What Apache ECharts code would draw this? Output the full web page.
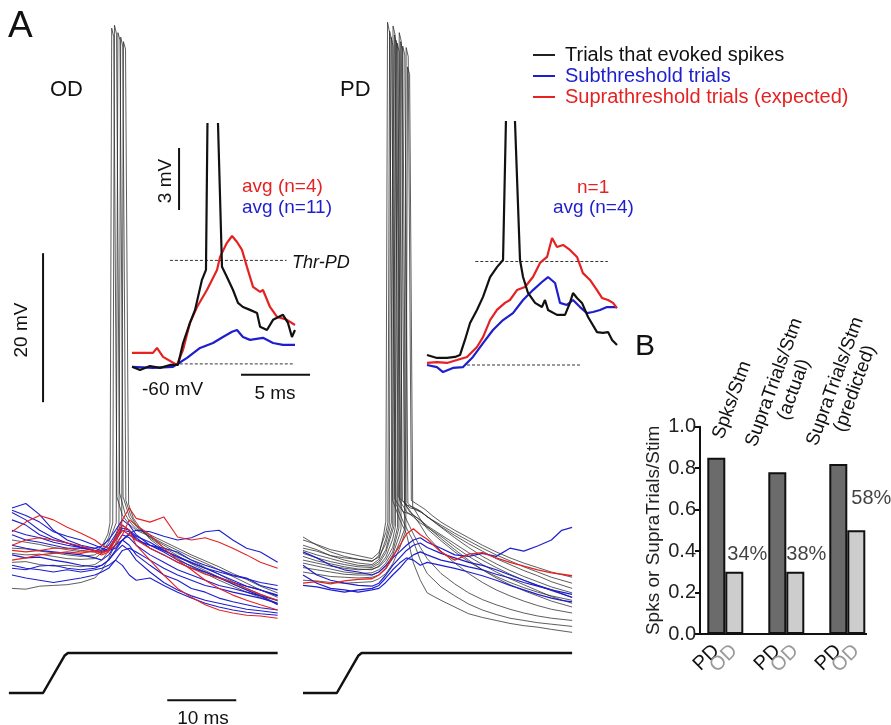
<!DOCTYPE html>
<html>
<head>
<meta charset="utf-8">
<title>OD / PD trials</title>
<script src="https://cdn.jsdelivr.net/npm/echarts@6/dist/echarts.min.js"></script>
<style>
  html, body { margin: 0; padding: 0; background: #fff; overflow: hidden; }
  #chart { width: 891px; height: 725px; }
</style>
</head>
<body>
<div id="chart"></div>
<script>
// ---------- panel A, OD cell: traces in [ms, mV] ----------
const odTimes = [0, 2, 4, 6, 8, 10, 12, 13, 14, 15, 16, 17, 18, 20, 22, 24, 26, 28, 30, 32, 34, 36, 38.5];

const odSubTrials = [
  [-53.0, -52.4, -53.9, -56.0, -57.3, -58.0, -58.4, -58.7, -58.0, -56.6, -55.3, -56.0, -57.3, -58.0, -58.4, -58.9, -60.0, -60.7, -61.3, -62.0, -62.4, -63.4, -64.0],
  [-54.6, -55.3, -56.6, -57.3, -57.7, -58.3, -58.7, -58.9, -58.7, -58.0, -57.3, -56.4, -56.0, -56.2, -56.8, -57.3, -57.0, -56.2, -56.0, -57.3, -58.4, -58.9, -60.3],
  [-58.0, -58.4, -58.7, -58.9, -59.1, -59.3, -59.7, -60.0, -59.3, -58.0, -56.6, -57.0, -58.0, -59.3, -60.3, -61.3, -62.0, -62.7, -63.4, -63.8, -64.3, -64.8, -65.4],
  [-59.3, -59.7, -59.6, -60.0, -60.3, -60.7, -60.9, -60.7, -60.0, -58.7, -57.3, -58.0, -59.3, -60.7, -62.0, -62.7, -63.8, -64.3, -65.1, -65.6, -66.0, -66.4, -66.7],
  [-60.7, -61.1, -61.3, -61.6, -61.3, -61.6, -61.3, -61.1, -60.7, -60.0, -60.7, -62.0, -62.7, -62.4, -63.4, -64.3, -65.1, -65.8, -66.3, -66.7, -67.0, -67.2, -67.4],
  [-62.0, -62.4, -62.7, -63.0, -62.7, -62.4, -62.0, -61.6, -61.1, -60.0, -58.7, -58.4, -58.9, -60.0, -61.1, -62.0, -62.7, -63.4, -63.8, -64.3, -64.7, -65.1, -65.8],
  [-56.6, -57.3, -57.6, -58.0, -58.4, -58.4, -58.7, -58.9, -58.7, -57.3, -56.0, -56.2, -57.0, -58.4, -59.3, -60.3, -61.1, -61.6, -62.3, -63.0, -63.5, -64.0, -64.7],
  [-53.3, -54.0, -54.9, -56.2, -56.8, -57.3, -58.0, -58.4, -58.7, -58.4, -57.3, -56.6, -57.3, -58.0, -58.7, -59.6, -60.4, -61.1, -61.6, -62.1, -62.5, -63.0, -63.4],
  [-56.0, -56.6, -57.0, -57.6, -58.0, -58.3, -58.4, -58.1, -57.3, -56.0, -54.6, -55.3, -56.6, -58.0, -58.9, -60.0, -60.8, -61.6, -62.4, -63.2, -64.0, -64.8, -66.0],
  [-61.1, -61.3, -60.8, -60.7, -61.1, -61.3, -61.1, -60.7, -60.0, -58.9, -58.0, -58.7, -60.0, -61.6, -63.0, -64.0, -64.8, -65.4, -65.8, -66.2, -66.6, -66.8, -67.1],
  [-53.6, -54.6, -56.0, -57.0, -57.7, -58.3, -58.7, -58.9, -58.4, -57.0, -55.7, -56.0, -56.8, -57.6, -58.7, -59.5, -60.3, -61.1, -61.9, -62.7, -63.5, -64.0, -64.8]
];

const odSupraTrials = [
  [-56.2, -54.9, -54.0, -54.6, -55.6, -56.4, -57.3, -58.0, -58.4, -57.0, -54.6, -53.0, -54.4, -54.9, -54.2, -56.9, -57.3, -57.0, -57.6, -58.4, -59.3, -60.3, -61.1],
  [-58.7, -58.9, -58.7, -58.4, -58.4, -58.7, -58.9, -59.3, -58.9, -57.3, -55.3, -56.0, -58.0, -60.0, -62.0, -63.8, -65.0, -66.0, -66.7, -67.1, -67.4, -67.5, -67.8],
  [-60.0, -59.7, -59.3, -59.1, -58.9, -59.1, -58.7, -58.9, -58.7, -57.3, -56.0, -56.6, -57.3, -58.4, -59.3, -60.3, -61.1, -61.9, -62.4, -63.0, -63.8, -64.6, -65.4],
  [-58.0, -57.3, -57.0, -57.3, -57.7, -58.1, -58.7, -59.1, -58.7, -58.0, -56.6, -54.6, -55.3, -56.6, -58.4, -60.0, -61.3, -62.7, -63.8, -64.7, -65.4, -66.0, -66.7]
];

// trials with a spike, [ms, mV] pairs
const odSpikeTrials = [
  [[0, -57.3], [2, -57.6], [4, -57.9], [6, -58.3], [8, -58.6], [10, -58.9], [12, -58.9], [13, -58.2], [13.9, -56.5], [14.2, -55.0], [14.45, 11.4], [14.75, 10.2], [15.2, -51.5], [16, -54.0], [17, -55.2], [18, -56.0], [20, -56.8], [22, -57.8], [24, -58.7], [26, -59.6], [28, -60.4], [30, -61.3], [32, -62.2], [34, -63.1], [36, -64.0], [38.5, -65.0]],
  [[0, -58.4], [2, -58.5], [4, -58.8], [6, -59.0], [8, -59.3], [10, -59.5], [12, -59.3], [13, -58.6], [14, -57.0], [14.6, -55.0], [14.85, 11.8], [15.15, 10.6], [15.6, -51.0], [16.4, -53.8], [17, -54.8], [18, -55.8], [20, -56.6], [22, -57.5], [24, -58.4], [26, -59.3], [28, -60.1], [30, -60.9], [32, -61.8], [34, -62.6], [36, -63.5], [38.5, -64.4]],
  [[0, -59.1], [2, -59.3], [4, -59.2], [6, -59.5], [8, -59.8], [10, -59.9], [12, -59.8], [13, -59.0], [14, -57.6], [15.1, -55.0], [15.35, 10.8], [15.65, 9.8], [16.1, -51.5], [17, -54.2], [18, -55.5], [20, -56.9], [22, -58.0], [24, -59.1], [26, -60.0], [28, -61.0], [30, -61.9], [32, -62.9], [34, -63.8], [36, -64.6], [38.5, -65.5]],
  [[0, -60.3], [2, -60.2], [4, -60.6], [6, -60.8], [8, -60.7], [10, -60.9], [12, -60.6], [13, -60.0], [14, -58.8], [15, -56.8], [15.5, -55.2], [15.75, 10.2], [16.05, 9.0], [16.5, -52.0], [17.2, -54.0], [18, -55.3], [20, -57.0], [22, -58.3], [24, -59.4], [26, -60.5], [28, -61.4], [30, -62.3], [32, -63.2], [34, -64.0], [36, -64.8], [38.5, -65.8]],
  [[0, -63.8], [2, -63.9], [4, -63.5], [6, -63.4], [8, -63.3], [10, -63.0], [12, -62.4], [13, -61.4], [14, -59.8], [15, -57.8], [15.9, -55.6], [16.15, 9.6], [16.45, 8.6], [16.9, -52.5], [17.6, -54.4], [18.5, -55.6], [20, -57.2], [22, -58.6], [24, -59.8], [26, -60.9], [28, -61.8], [30, -62.7], [32, -63.5], [34, -64.3], [36, -65.0], [38.5, -65.9]]
];

// ---------- panel A, PD cell ----------
const pdTimes = [0, 2, 4, 6, 8, 10, 11, 12, 13, 14, 15, 16, 17, 18, 20, 22, 24, 26, 28, 30, 32, 34, 36, 37.5, 39];

const pdSubTrials = [
  [-58.9, -59.7, -60.7, -61.3, -61.6, -62.0, -61.6, -60.7, -59.7, -58.9, -58.0, -57.3, -57.0, -57.6, -58.4, -59.3, -59.5, -59.1, -59.5, -58.4, -58.8, -58.1, -57.3, -56.0, -55.6],
  [-60.7, -62.0, -62.7, -63.1, -63.4, -63.5, -63.1, -62.0, -60.7, -59.7, -58.7, -58.0, -57.7, -58.3, -59.1, -59.7, -60.3, -60.7, -61.3, -62.0, -62.7, -63.4, -64.0, -64.5, -65.0],
  [-62.0, -63.1, -63.8, -64.0, -64.3, -64.0, -63.8, -63.0, -62.0, -61.1, -60.0, -59.3, -58.9, -59.3, -60.0, -60.4, -60.9, -61.3, -61.9, -62.4, -63.0, -63.5, -64.0, -64.3, -64.6],
  [-63.4, -63.6, -64.0, -64.3, -64.0, -63.8, -63.4, -62.4, -61.3, -60.4, -59.7, -60.0, -60.7, -60.3, -60.7, -61.1, -61.6, -62.1, -62.7, -63.4, -64.0, -64.6, -65.1, -65.4, -65.6]
];

const pdSupraTrials = [
  [-63.1, -62.9, -63.2, -62.8, -62.6, -62.5, -62.0, -61.1, -59.5, -58.1, -56.5, -55.8, -56.6, -57.2, -58.9, -60.0, -59.2, -59.0, -59.7, -60.3, -60.8, -61.3, -61.7, -61.9, -62.1]
];

const pdSpikeTrials = [
  [[0, -56.9], [2, -58.0], [4, -58.9], [6, -59.5], [8, -59.9], [10, -60.2], [11, -59.4], [11.7, -56.5], [12.0, -54.8], [12.25, 12.2], [12.55, 10.8], [13.0, -52.0], [14, -54.5], [15, -56.5], [16, -60.4], [17, -62.7], [18, -64.4], [20, -65.4], [22, -66.3], [24, -67.2], [26, -67.7], [28, -68.1], [30, -68.5], [32, -68.8], [34, -69.0], [36, -69.3], [39, -69.7]],
  [[0, -57.3], [2, -57.9], [4, -58.6], [6, -59.0], [8, -59.4], [10, -59.8], [11, -59.0], [12, -56.3], [12.3, -55.0], [12.55, 11.0], [12.85, 9.8], [13.3, -51.8], [14.5, -53.5], [16, -54.0], [17, -54.6], [18, -55.4], [20, -56.6], [22, -57.8], [24, -59.0], [26, -60.0], [28, -61.0], [30, -61.9], [32, -62.7], [34, -63.4], [36, -64.1], [39, -65.0]],
  [[0, -58.0], [2, -58.6], [4, -59.4], [6, -60.0], [8, -60.4], [10, -60.6], [11, -59.9], [12, -57.2], [12.5, -55.2], [12.75, 10.2], [13.05, 9.0], [13.5, -52.5], [14.5, -54.8], [16, -57.5], [17, -60.0], [18, -61.8], [20, -63.6], [22, -64.8], [24, -65.9], [26, -66.7], [28, -67.3], [30, -67.8], [32, -68.1], [34, -68.4], [36, -68.6], [39, -68.9]],
  [[0, -58.4], [2, -58.8], [4, -59.4], [6, -59.7], [8, -59.9], [10, -60.1], [11, -59.6], [12, -57.8], [12.8, -55.0], [13.05, 11.7], [13.35, 10.5], [13.8, -51.5], [15, -52.6], [16, -52.9], [17, -53.4], [18, -54.2], [20, -55.3], [22, -56.4], [24, -57.4], [26, -58.4], [28, -59.3], [30, -60.1], [32, -60.9], [34, -61.6], [36, -62.3], [39, -63.1]],
  [[0, -58.7], [2, -59.3], [4, -59.8], [6, -60.3], [8, -60.7], [10, -60.8], [11, -60.2], [12, -58.6], [13.0, -55.3], [13.25, 10.5], [13.55, 9.4], [14.0, -52.0], [15, -53.5], [16, -54.2], [17, -55.0], [18, -55.6], [20, -56.8], [22, -58.2], [24, -59.5], [26, -60.6], [28, -61.6], [30, -62.5], [32, -63.3], [34, -64.1], [36, -64.9], [39, -65.8]],
  [[0, -59.1], [2, -59.7], [4, -60.2], [6, -60.6], [8, -60.9], [10, -61.0], [11, -60.5], [12, -59.0], [13.2, -55.4], [13.45, 9.8], [13.75, 8.6], [14.2, -52.8], [15, -54.6], [16, -56.5], [17, -58.3], [18, -59.8], [20, -61.8], [22, -63.2], [24, -64.4], [26, -65.3], [28, -66.0], [30, -66.6], [32, -67.1], [34, -67.5], [36, -67.8], [39, -68.1]],
  [[0, -59.5], [2, -60.1], [4, -60.5], [6, -60.9], [8, -61.2], [10, -61.3], [11, -60.8], [12, -59.6], [13, -57.2], [13.4, -55.5], [13.65, 9.4], [13.95, 8.2], [14.4, -52.0], [15.5, -53.0], [16.5, -53.2], [17.5, -53.8], [18.5, -54.5], [20, -55.5], [22, -56.7], [24, -57.8], [26, -58.8], [28, -59.8], [30, -60.6], [32, -61.4], [34, -62.1], [36, -62.9], [39, -63.8]],
  [[0, -60.0], [2, -60.4], [4, -60.8], [6, -61.1], [8, -61.3], [10, -61.2], [11, -60.9], [12, -60.0], [13, -58.3], [13.7, -55.6], [13.95, 10.8], [14.25, 9.6], [14.7, -52.3], [15.5, -53.6], [16.5, -54.3], [17.5, -55.1], [18.5, -55.9], [20, -57.1], [22, -58.6], [24, -60.0], [26, -61.3], [28, -62.4], [30, -63.3], [32, -64.1], [34, -64.8], [36, -65.5], [39, -66.3]],
  [[0, -60.4], [2, -60.8], [4, -61.2], [6, -61.6], [8, -61.8], [10, -61.7], [11, -61.3], [12, -60.4], [13, -58.9], [13.9, -55.7], [14.15, 9.6], [14.45, 8.4], [14.9, -52.6], [16, -54.0], [17, -55.3], [18, -56.8], [20, -58.8], [22, -60.4], [24, -61.8], [26, -63.0], [28, -64.0], [30, -64.8], [32, -65.5], [34, -66.1], [36, -66.6], [39, -67.1]],
  [[0, -61.0], [2, -61.3], [4, -61.6], [6, -61.9], [8, -62.0], [10, -62.0], [11, -61.6], [12, -60.8], [13, -59.3], [14, -56.6], [14.2, -55.8], [14.45, 9.0], [14.75, 7.8], [15.2, -52.4], [16.2, -53.2], [17.2, -53.6], [18.2, -54.3], [20, -55.6], [22, -57.0], [24, -58.3], [26, -59.5], [28, -60.5], [30, -61.4], [32, -62.2], [34, -62.9], [36, -63.6], [39, -64.4]],
  [[0, -61.6], [2, -61.9], [4, -62.2], [6, -62.3], [8, -62.4], [10, -62.3], [11, -62.0], [12, -61.2], [13, -59.8], [14, -57.6], [14.7, -55.9], [14.95, 8.8], [15.25, 7.6], [15.7, -52.0], [16.7, -52.6], [17.7, -53.2], [18.7, -54.0], [20, -54.9], [22, -56.0], [24, -57.0], [26, -58.0], [28, -58.9], [30, -59.7], [32, -60.4], [34, -61.0], [36, -61.6], [39, -62.3]],
  [[0, -62.7], [2, -62.8], [4, -63.0], [6, -63.1], [8, -63.0], [10, -62.9], [11, -62.5], [12, -61.8], [13, -60.5], [14, -58.4], [14.9, -56.0], [15.15, 6.2], [15.45, 5.2], [15.9, -52.8], [17, -54.5], [18, -55.8], [20, -57.4], [22, -58.9], [24, -60.2], [26, -61.3], [28, -62.2], [30, -63.0], [32, -63.7], [34, -64.3], [36, -64.8], [39, -65.4]]
];

// stimulus command (0 = off, 1 = on)
const odStim = [[-0.45, 0], [4.5, 0], [7.6, 0.93], [8.1, 1], [38.5, 1]];
const pdStim = [[0, 0], [4.9, 0], [8.0, 0.93], [8.5, 1], [39, 1]];

// ---------- insets (averages), [ms, mV] ----------
const odInsetSpike = [[0, -60.14], [0.58, -60.29], [1.3, -60.1], [2.03, -60.19], [2.75, -60.05], [3.33, -60.05], [3.7, -58.99], [4.2, -58.02], [4.57, -57.39], [5.07, -55.94], [5.36, -55.46], [5.52, -45], [6.09, -45], [6.52, -55.31], [6.88, -55.8], [7.32, -56.43], [7.68, -57.05], [8.04, -57.25], [8.55, -57.39], [9.06, -57.54], [9.28, -58.21], [9.78, -58.36], [10.22, -57.87], [10.94, -57.63], [11.3, -58.02], [11.59, -58.7], [11.81, -58.36]];
const odInsetSupra = [[0, -59.47], [1.52, -59.47], [1.81, -59.23], [2.25, -59.66], [3.26, -60.05], [3.7, -59.32], [4.2, -58.02], [4.71, -57.25], [5.43, -56.43], [6.16, -55.46], [6.38, -54.83], [6.88, -54.15], [7.25, -53.82], [7.61, -54.11], [7.97, -54.49], [8.33, -55.31], [8.77, -56.28], [9.28, -56.52], [9.49, -56.43], [10.0, -57.25], [10.51, -57.73], [11.23, -57.87], [11.81, -58.12]];
const odInsetSub = [[0, -60.14], [1.52, -60.19], [2.97, -60.14], [3.99, -59.71], [4.93, -59.23], [5.87, -58.99], [6.59, -58.7], [7.25, -58.45], [7.61, -58.36], [8.04, -58.7], [8.55, -58.84], [9.49, -58.74], [10.22, -58.99], [10.94, -59.08], [11.81, -59.08]];

const pdInsetSpike = [[0, -59.52], [0.72, -59.66], [1.45, -59.66], [2.03, -59.61], [2.39, -59.52], [2.75, -58.79], [3.12, -57.97], [3.62, -57.34], [4.06, -56.71], [4.57, -55.75], [5.07, -55.27], [5.51, -54.93], [5.82, -45], [6.2, -45], [6.74, -54.93], [6.96, -55.75], [7.32, -56.52], [7.83, -57.0], [8.33, -57.2], [8.55, -56.86], [8.77, -57.34], [9.42, -57.58], [10.0, -57.58], [10.36, -57.0], [10.58, -56.52], [10.87, -56.76], [11.23, -57.0], [11.67, -57.68], [12.32, -58.41], [12.75, -58.45], [13.12, -58.41], [13.41, -58.79], [13.77, -59.03]];
const pdInsetSupra = [[0, -59.9], [0.72, -59.86], [1.45, -59.9], [2.17, -59.76], [2.9, -59.61], [3.62, -59.13], [4.06, -58.65], [4.57, -57.83], [5.07, -57.34], [5.65, -57.0], [6.01, -56.86], [6.52, -56.38], [7.1, -56.23], [7.68, -55.75], [8.19, -55.07], [8.7, -54.78], [9.06, -53.86], [9.42, -54.3], [9.86, -54.2], [10.36, -54.44], [10.87, -54.78], [11.3, -55.56], [11.81, -55.89], [12.32, -56.38], [12.68, -56.76], [13.12, -56.86], [13.48, -57.0], [13.77, -57.25]];
const pdInsetSub = [[0, -60.0], [0.72, -60.1], [1.16, -60.34], [1.88, -60.14], [2.61, -60.1], [3.33, -59.61], [4.06, -58.94], [4.78, -58.31], [5.51, -57.83], [6.23, -57.49], [6.96, -56.86], [7.68, -56.38], [8.33, -55.99], [8.77, -55.75], [9.28, -56.04], [9.64, -57.0], [10.14, -57.1], [10.58, -56.86], [11.09, -57.2], [11.59, -57.49], [12.03, -57.44], [12.54, -57.34], [13.04, -57.2], [13.77, -57.2]];

// threshold / baseline and scale bars
const odThrLine = [[2.75, -55], [11.2, -55]];
const odBaseLine = [[3.1, -60], [11.8, -60]];
const pdThrLine = [[3.5, -55], [13.1, -55]];
const pdBaseLine = [[2.9, -60], [11.1, -60]];
const scaleBar20mV = [[4.5, -18.8], [4.5, -38.8]];
const scaleBar10ms = [[22.5, -78.8], [32.5, -78.8]];
const scaleBar3mV = [[3.41, -49.57], [3.41, -52.57]];
const scaleBar5ms = [[7.9, -60.53], [12.9, -60.53]];

// ---------- panel B ----------
const barGroups = ['Spks/Stm', 'SupraTrials/Stm\n(actual)', 'SupraTrials/Stm\n(predicted)'];
const pdBars = [0.85, 0.78, 0.82];
const odBars = [0.30, 0.30, 0.50];
const pctLabels = ['34%', '38%', '58%'];
const bTicks = [0, 0.2, 0.4, 0.6, 0.8, 1.0];

const FONT = '"Liberation Sans", Arial, Helvetica, sans-serif';
const BLACK = '#2b2b2b', BLUE = '#1e1ecf', RED = '#e52222';
const NAME_SPK = 'Trials that evoked spikes';
const NAME_SUB = 'Subthreshold trials';
const NAME_SUPRA = 'Suprathreshold trials (expected)';

const chart = echarts.init(document.getElementById('chart'));

function line(name, data, idx, color, width, extra) {
  return Object.assign({
    type: 'line', name: name, data: data,
    xAxisIndex: idx, yAxisIndex: idx,
    symbol: 'none', showSymbol: false, silent: true, animation: false,
    emphasis: { disabled: true },
    lineStyle: { color: color, width: width },
    itemStyle: { color: color }
  }, extra || {});
}
const onGrid = (times, vals) => vals.map((v, i) => [times[i], v]);

const series = [];
odSpikeTrials.forEach(d => series.push(line(NAME_SPK, d, 0, BLACK, 0.9, { lineStyle: { color: BLACK, width: 0.9, opacity: 0.85 } })));
odSubTrials.forEach(v => series.push(line(NAME_SUB, onGrid(odTimes, v), 0, BLUE, 1.1)));
odSupraTrials.forEach(v => series.push(line(NAME_SUPRA, onGrid(odTimes, v), 0, RED, 1.1)));
pdSpikeTrials.forEach(d => series.push(line(NAME_SPK, d, 2, BLACK, 0.9, { lineStyle: { color: BLACK, width: 0.9, opacity: 0.85 } })));
pdSubTrials.forEach(v => series.push(line(NAME_SUB, onGrid(pdTimes, v), 2, BLUE, 1.2)));
pdSupraTrials.forEach(v => series.push(line(NAME_SUPRA, onGrid(pdTimes, v), 2, RED, 1.3)));

series.push(line('stim', odStim, 1, '#111', 2.5, { clip: false }));
series.push(line('stim', pdStim, 3, '#111', 2.5, { clip: false }));
series.push(line('scale', scaleBar20mV, 0, '#111', 2, { clip: false }));
series.push(line('scale', scaleBar10ms, 0, '#111', 2, { clip: false }));
series.push(line('scale', scaleBar3mV, 4, '#111', 2, { clip: false }));
series.push(line('scale', scaleBar5ms, 4, '#111', 2, { clip: false }));

const dashed = { color: '#333', width: 1, type: [3, 2] };
series.push(line('thr', odThrLine, 4, '#333', 1, { lineStyle: dashed }));
series.push(line('thr', odBaseLine, 4, '#333', 1, { lineStyle: dashed }));
series.push(line('thr', pdThrLine, 5, '#333', 1, { lineStyle: dashed }));
series.push(line('thr', pdBaseLine, 5, '#333', 1, { lineStyle: dashed }));

series.push(line(NAME_SUB, odInsetSub, 4, BLUE, 2.2));
series.push(line(NAME_SUPRA, odInsetSupra, 4, RED, 2.2));
series.push(line(NAME_SPK, odInsetSpike, 4, '#111', 2.2));
series.push(line(NAME_SUB, pdInsetSub, 5, BLUE, 2.2));
series.push(line(NAME_SUPRA, pdInsetSupra, 5, RED, 2.2));
series.push(line(NAME_SPK, pdInsetSpike, 5, '#111', 2.2));

const barLabel = (txt, color) => ({
  show: true, position: 'bottom', distance: 14, formatter: txt,
  rotate: 45, align: 'right', verticalAlign: 'middle',
  color: color, fontSize: 20, fontFamily: FONT
});
series.push({
  type: 'bar', name: 'PD', xAxisIndex: 6, yAxisIndex: 6, data: pdBars,
  barWidth: 18, barGap: '0%', silent: true, animation: false,
  itemStyle: { color: '#6b6b6b', borderColor: '#111', borderWidth: 2 },
  label: barLabel('PD', '#111')
});
series.push({
  type: 'bar', name: 'OD', xAxisIndex: 6, yAxisIndex: 6, data: odBars,
  barWidth: 18, barGap: '0%', silent: true, animation: false,
  itemStyle: { color: '#cdcdcd', borderColor: '#111', borderWidth: 2 },
  label: barLabel('OD', '#9a9a9a')
});
// percentages sit just above / right of the OD bar tops
const pctOffsets = [[22, -2], [20, -2], [24, -17]];
series.push({
  type: 'scatter', xAxisIndex: 6, yAxisIndex: 6, symbolSize: 0, silent: true, animation: false,
  itemStyle: { color: '#111' },
  data: odBars.map((v, i) => ({ value: [i, v], label: { offset: pctOffsets[i] } })),
  label: {
    show: true, position: 'top', distance: 5, formatter: p => pctLabels[p.dataIndex],
    color: '#111', fontSize: 20, fontFamily: FONT
  }
});

const hidden = (i, min, max) => ({ gridIndex: i, type: 'value', min: min, max: max, show: false });

function txt(o) {
  const align = o.align || 'left';
  return {
    type: 'text', x: o.x, y: o.y, rotation: (o.rot || 0) * Math.PI / 180, silent: true, z: 100,
    style: {
      text: o.text, font: (o.italic ? 'italic ' : '') + o.size + 'px ' + FONT, fill: o.color || '#111',
      align: align, textAlign: align, verticalAlign: 'middle', textVerticalAlign: 'middle',
      lineHeight: o.lh || o.size
    }
  };
}
const texts = [
  { text: 'A', x: 8, y: 27, size: 37 },
  { text: 'OD', x: 50, y: 90, size: 22 },
  { text: 'PD', x: 340, y: 90, size: 22 },
  { text: 'B', x: 635, y: 347, size: 30 },
  { text: '20 mV', x: 22, y: 330, size: 19, rot: 90, align: 'center' },
  { text: '10 ms', x: 203, y: 719, size: 19, align: 'center' },
  { text: '3 mV', x: 166, y: 181, size: 19, rot: 90, align: 'center' },
  { text: 'avg (n=4)', x: 242, y: 187, size: 19, color: RED },
  { text: 'avg (n=11)', x: 242, y: 208, size: 19, color: BLUE },
  { text: 'Thr-PD', x: 292, y: 263, size: 18, italic: true },
  { text: '-60 mV', x: 142, y: 390, size: 19 },
  { text: '5 ms', x: 275, y: 394, size: 19, align: 'center' },
  { text: 'n=1', x: 577, y: 188, size: 19, color: RED },
  { text: 'avg (n=4)', x: 553, y: 208, size: 19, color: BLUE },
  { text: barGroups[0], x: 732, y: 400, size: 19, rot: 70, align: 'center', lh: 21 },
  { text: barGroups[1], x: 784, y: 386, size: 19, rot: 70, align: 'center', lh: 21 },
  { text: barGroups[2], x: 845, y: 385, size: 19, rot: 70, align: 'center', lh: 21 }
];
const graphic = texts.map(txt);
graphic.push({ type: 'line', silent: true, z: 100, shape: { x1: 699, y1: 634, x2: 867, y2: 634 }, style: { stroke: '#111', lineWidth: 2 } });

chart.setOption({
  animation: false,
  textStyle: { fontFamily: FONT },
  grid: [
    { left: 8.55, top: 20, width: 269.1, height: 689.1 },
    { left: 8.55, top: 653, width: 269.1, height: 40 },
    { left: 303, top: 20, width: 269.1, height: 689.1 },
    { left: 303, top: 653, width: 269.1, height: 40 },
    { left: 132, top: 124, width: 179.4, height: 260.6 },
    { left: 427, top: 122, width: 193.2, height: 263.7 },
    { left: 694.8, top: 426.7, width: 183, height: 207.3 }
  ],
  xAxis: [
    hidden(0, -0.5, 38.5), hidden(1, -0.5, 38.5), hidden(2, 0, 39), hidden(3, 0, 39),
    hidden(4, 0, 13), hidden(5, 0, 14),
    { gridIndex: 6, type: 'category', data: barGroups, axisLine: { show: false }, axisTick: { show: false }, axisLabel: { show: false } }
  ],
  yAxis: [
    hidden(0, -80, 12.5), hidden(1, 0, 1), hidden(2, -80, 12.5), hidden(3, 0, 1),
    hidden(4, -61, -48.41), hidden(5, -61, -48.26),
    {
      gridIndex: 6, type: 'value', min: bTicks[0], max: bTicks[bTicks.length - 1], interval: 0.2, offset: -5.2,
      name: 'Spks or SupraTrials/Stim', nameLocation: 'middle', nameRotate: 90, nameGap: 37,
      nameTextStyle: { fontSize: 19, color: '#222', fontFamily: FONT },
      axisLine: { show: true, lineStyle: { color: '#111', width: 2 } },
      axisTick: { show: true, length: 5, lineStyle: { color: '#111', width: 2 } },
      axisLabel: { fontSize: 20, color: '#222', margin: 4, formatter: v => v.toFixed(1) },
      splitLine: { show: false }
    }
  ],
  legend: {
    left: 533, top: 45, padding: 0, orient: 'vertical', icon: 'rect', itemWidth: 22, itemHeight: 2, itemGap: 1,
    selectedMode: false,
    textStyle: { fontSize: 20, fontFamily: FONT, lineHeight: 20, padding: [0, 0, 0, 5] },
    data: [
      { name: NAME_SPK, itemStyle: { color: '#222' }, textStyle: { color: '#111' } },
      { name: NAME_SUB, itemStyle: { color: BLUE }, textStyle: { color: BLUE } },
      { name: NAME_SUPRA, itemStyle: { color: RED }, textStyle: { color: RED } }
    ]
  },
  graphic: graphic,
  series: series
});
</script>
</body>
</html>
